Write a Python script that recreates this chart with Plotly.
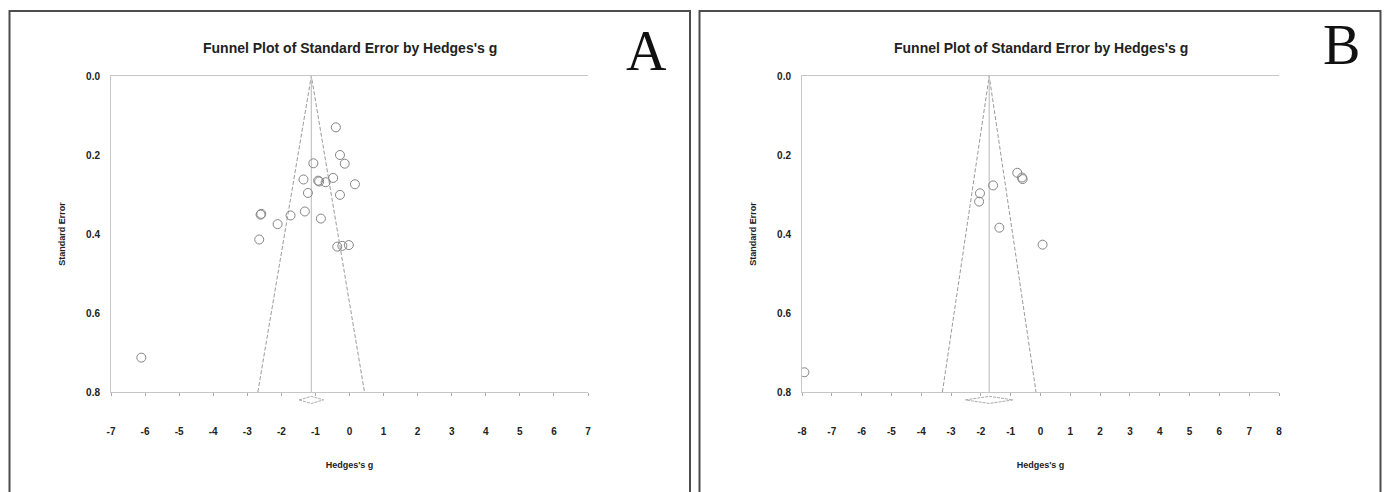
import plotly.graph_objects as go

W, H = 1387, 492

# ---------------- data ----------------
# Panel A
g_A = [-0.40, -0.28, -0.14, -1.06, -1.35, -0.92, -0.89, -0.70, -0.48, 0.16,
       -1.22, -0.28, -2.61, -2.59, -1.73, -1.31, -0.84, -2.11, -2.65, -0.36,
       -0.21, -0.02, -6.11]
se_A = [0.130, 0.200, 0.222, 0.221, 0.262, 0.265, 0.267, 0.269, 0.258, 0.274,
        0.296, 0.301, 0.351, 0.349, 0.353, 0.343, 0.361, 0.375, 0.414, 0.432,
        0.430, 0.428, 0.713]
funnel_A_x = [-2.69, -1.12, 0.44]
center_A = -1.12
diamond_A_x = [-1.48, -1.12, -0.76, -1.12, -1.48]

# Panel B
g_B = [-0.78, -0.62, -0.60, -1.59, -2.03, -2.06, -1.38, 0.07, -7.92]
se_B = [0.245, 0.257, 0.261, 0.277, 0.297, 0.318, 0.384, 0.427, 0.750]
funnel_B_x = [-3.29, -1.72, -0.15]
center_B = -1.72
diamond_B_x = [-2.52, -1.72, -0.92, -1.72, -2.52]

funnel_y = [0.8, 0.0, 0.8]
center_y = [0.0, 0.8]
diamond_y = [0.820, 0.811, 0.820, 0.829, 0.820]

xticks_A = list(range(-7, 8))
xticks_B = list(range(-8, 9))
yticks = [0.0, 0.2, 0.4, 0.6, 0.8]
ytick_text = ["0.0", "0.2", "0.4", "0.6", "0.8"]

title_text = "Funnel Plot of Standard Error by Hedges's g"
xlabel = "Hedges's g"
ylabel = "Standard Error"

# ---------------- layout geometry ----------------
def px(x):
    return x / W

def py(y):
    return 1 - y / H

top_px, bot_px, diam_px = 76, 392, 410
ydom = [py(bot_px), py(top_px)]
ydom_ext = [py(diam_px), py(top_px)]
ext_max = 0.8 * (diam_px - top_px) / (bot_px - top_px)

A_dom = [px(111), px(588)]
B_dom = [px(802), px(1279)]

FONT = "Liberation Sans"
axcol = "#c6c6c6"
mcol = "#858585"
fcol = "#8f8f8f"

fig = go.Figure()

def add_panel(g, se, fx, cx, dx, xa, ya, yext):
    fig.add_trace(go.Scatter(x=fx, y=funnel_y, mode="lines", xaxis=xa, yaxis=ya,
                             line=dict(color=fcol, width=0.9, dash="4px,2px"),
                             showlegend=False, hoverinfo="skip"))
    fig.add_trace(go.Scatter(x=[cx, cx], y=center_y, mode="lines", xaxis=xa, yaxis=ya,
                             line=dict(color="#c4c4c4", width=1.2),
                             showlegend=False, hoverinfo="skip"))
    fig.add_trace(go.Scatter(x=g, y=se, mode="markers", xaxis=xa, yaxis=ya,
                             marker=dict(symbol="circle-open", size=9,
                                         color=mcol, line=dict(width=1, color=mcol)),
                             showlegend=False))
    fig.add_trace(go.Scatter(x=dx, y=diamond_y, mode="lines", xaxis=xa, yaxis=yext,
                             line=dict(color="#a0a0a0", width=0.9, dash="3px,1px"),
                             showlegend=False, hoverinfo="skip"))

add_panel(g_A, se_A, funnel_A_x, center_A, diamond_A_x, "x", "y", "y3")
add_panel(g_B, se_B, funnel_B_x, center_B, diamond_B_x, "x2", "y2", "y4")

tickfont = dict(family=FONT, size=10, color="#222", weight="bold")
titlefont = dict(family=FONT, size=9, color="#222", weight="bold")

def xaxis_cfg(dom, ticks, rng, anchor):
    return dict(domain=dom, range=rng, anchor=anchor, tickmode="array",
                tickvals=ticks, ticktext=[str(t) for t in ticks],
                showline=True, linecolor=axcol, linewidth=1, mirror=True,
                ticks="outside", ticklen=3, tickcolor="#aaaaaa",
                showgrid=False, zeroline=False, tickfont=tickfont,
                ticklabelstandoff=27, automargin=False,
                title=dict(text=xlabel, font=titlefont, standoff=25))

def yaxis_cfg(anchor):
    return dict(domain=ydom, range=[0.8, 0.0], anchor=anchor, tickmode="array",
                tickvals=yticks, ticktext=ytick_text,
                showline=True, linecolor=axcol, linewidth=1,
                ticks="", showgrid=False, zeroline=False, tickfont=tickfont,
                ticklabelstandoff=8, automargin=False,
                title=dict(text=ylabel, font=titlefont, standoff=18))

def yext_cfg(anchor):
    return dict(domain=ydom_ext, range=[ext_max, 0.0], anchor=anchor,
                visible=False, showgrid=False, zeroline=False, automargin=False)

fig.update_layout(
    width=W, height=H,
    margin=dict(l=0, r=0, t=0, b=0, pad=0),
    paper_bgcolor="white", plot_bgcolor="rgba(0,0,0,0)",
    xaxis=xaxis_cfg(A_dom, xticks_A, [-7, 7], "y"),
    yaxis=yaxis_cfg("x"),
    xaxis2=xaxis_cfg(B_dom, xticks_B, [-8, 8], "y2"),
    yaxis2=yaxis_cfg("x2"),
    yaxis3=yext_cfg("x"),
    yaxis4=yext_cfg("x2"),
)

annotations = []
for cxp, letter, lx, ly in [((111 + 588) / 2, "A", 646, 51), ((802 + 1279) / 2, "B", 1341, 45)]:
    annotations.append(dict(text=title_text, x=px(cxp), y=py(48), xref="paper", yref="paper",
                            showarrow=False, xanchor="center", yanchor="middle",
                            font=dict(family=FONT, size=14, color="#222", weight="bold")))
    annotations.append(dict(text=letter, x=px(lx), y=py(ly), xref="paper", yref="paper",
                            showarrow=False, xanchor="center", yanchor="middle",
                            font=dict(family="Liberation Serif", size=56, color="#111")))
fig.update_layout(annotations=annotations)

shapes = []
for x0, x1 in [(9.5, 690), (699.5, 1380.5)]:
    shapes.append(dict(type="rect", xref="paper", yref="paper",
                       x0=px(x0), x1=px(x1), y0=-0.02, y1=py(11),
                       line=dict(color="#4d4d4d", width=2), fillcolor="rgba(0,0,0,0)"))
fig.update_layout(shapes=shapes)

fig.write_html("out.html", config={"displayModeBar": False},
               post_script="document.body.style.margin='0px';document.body.style.overflow='hidden';")
